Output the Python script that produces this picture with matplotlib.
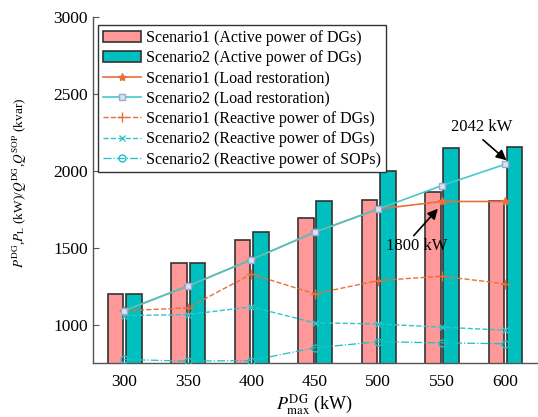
import numpy as np
import matplotlib
matplotlib.use("Agg")
import matplotlib.pyplot as plt

plt.rcParams['font.family'] = ['Liberation Serif', 'DejaVu Serif']
plt.rcParams['mathtext.fontset'] = 'stix'

categories = ['300', '350', '400', '450', '500', '550', '600']
s1_active = [1200, 1400, 1550, 1690, 1810, 1860, 1805]
s2_active = [1200, 1400, 1600, 1800, 2000, 2145, 2155]
s1_load = [1090, 1250, 1422, 1600, 1751, 1800, 1800]
s2_load = [1090, 1250, 1422, 1600, 1751, 1903, 2042]
s1_qdg = [1090, 1108, 1328, 1200, 1286, 1314, 1265]
s2_qdg = [1058, 1065, 1115, 1011, 1004, 983, 963]
s2_qsop = [773, 762, 766, 849, 888, 881, 875]

x = np.arange(1, len(categories) + 1)

fig = plt.figure(figsize=(5.38, 4.17), dpi=100)
ax = fig.add_axes([0.172, 0.1295, 0.826, 0.83])

w = 0.245
b1 = ax.bar(x - 0.14, s1_active, width=w, color='#FF9999', edgecolor='#333333', linewidth=1.2,
            label='Scenario1 (Active power of DGs)', zorder=2)
b2 = ax.bar(x + 0.15, s2_active, width=w, color='#00BFBF', edgecolor='#333333', linewidth=1.2,
            label='Scenario2 (Active power of DGs)', zorder=2)

l1, = ax.plot(x, s1_load, '-', color='#E8703A', marker='*', markersize=6, linewidth=1.2,
              label='Scenario1 (Load restoration)', zorder=4)
l2, = ax.plot(x, s2_load, '-', color='#45CACA', marker='s', markersize=5, markerfacecolor='#D8E4F4',
              markeredgecolor='#9AAAD0', linewidth=1.2, label='Scenario2 (Load restoration)', zorder=5)
l3, = ax.plot(x, s1_qdg, '--', color='#E8703A', marker='+', markersize=7, linewidth=1.0,
              label='Scenario1 (Reactive power of DGs)', zorder=4)
l4, = ax.plot(x, s2_qdg, '--', color='#30C4CC', marker='x', markersize=5, linewidth=1.0,
              label='Scenario2 (Reactive power of DGs)', zorder=4)
l5, = ax.plot(x, s2_qsop, '-.', color='#20BEC6', marker='o', markersize=5, markerfacecolor='none',
              linewidth=0.9, label='Scenario2 (Reactive power of SOPs)', zorder=4)

ax.set_xlim(0.5, 7.5)
ax.set_ylim(750, 3000)
ax.set_xticks(x)
ax.set_xticklabels(categories)
ax.set_yticks([1000, 1500, 2000, 2500, 3000])
ax.tick_params(axis='both', labelsize=12.5, direction='in', length=4, color='#555555')
ax.tick_params(axis='x', length=0, pad=8)
for s in ['top', 'right']:
    ax.spines[s].set_visible(False)
for s in ['left', 'bottom']:
    ax.spines[s].set_color('#555555')
    ax.spines[s].set_linewidth(1.0)

ax.set_xlabel(r'$P^{\mathrm{DG}}_{\mathrm{max}}$' + ' (kW)', fontsize=13, labelpad=2)
ax.set_ylabel(r'$P^{\mathrm{DG}}$' + ',' + r'$P_{\mathrm{L}}$' + ' (kW)/' + r'$Q^{\mathrm{DG}}$' + ','
              + r'$Q^{\mathrm{SOP}}$' + ' (kvar)', fontsize=9.5)
ax.yaxis.set_label_coords(-0.143, 0.52)

ax.text(6.63, 2286, '2042 kW', fontsize=12, ha='center', va='center', zorder=6)
ax.annotate('', xy=(7.02, 2068), xytext=(6.65, 2201),
            arrowprops=dict(arrowstyle='-|>', color='black', lw=1.2, mutation_scale=15,
                            shrinkA=0, shrinkB=0), zorder=6)
ax.text(5.6, 1513, '1800 kW', fontsize=12, ha='center', va='center', zorder=6)
ax.annotate('', xy=(5.94, 1753), xytext=(5.56, 1578),
            arrowprops=dict(arrowstyle='-|>', color='black', lw=1.2, mutation_scale=15,
                            shrinkA=0, shrinkB=0), zorder=6)

leg = ax.legend(handles=[b1, b2, l1, l2, l3, l4, l5],
                loc='upper left', bbox_to_anchor=(98 / 538, 1 - 25 / 417),
                bbox_transform=fig.transFigure, borderaxespad=0, fontsize=11.5,
                frameon=True, fancybox=False, edgecolor='#333333', framealpha=1,
                handlelength=2.4, handletextpad=0.3, labelspacing=0.27,
                borderpad=0.3)
leg.get_frame().set_linewidth(1.0)
leg.set_zorder(10)

fig.savefig('out.png', dpi=100)
